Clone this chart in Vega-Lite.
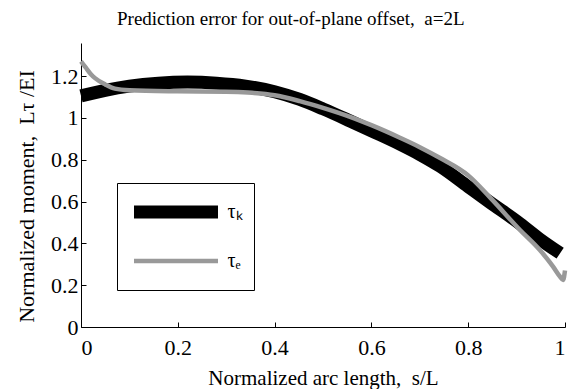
{
  "$schema": "https://vega.github.io/schema/vega-lite/v6.json",
  "width": 484,
  "height": 284,
  "autosize": "none",
  "padding": {"left": 81, "top": 43, "right": 9, "bottom": 62},
  "background": "white",
  "title": {
    "text": "Prediction error for out-of-plane offset,\u00a0 a=2L",
    "anchor": "start",
    "frame": "group",
    "dx": 36,
    "offset": -1,
    "font": "Liberation Serif",
    "fontSize": 19,
    "fontWeight": "normal",
    "color": "black",
    "baseline": "alphabetic"
  },
  "config": {
    "view": {"stroke": null},
    "axis": {
      "domainColor": "black",
      "domainWidth": 1,
      "tickColor": "black",
      "tickSize": -5,
      "tickWidth": 1,
      "grid": false,
      "labelFont": "Liberation Serif",
      "labelFontSize": 22,
      "labelColor": "black",
      "titleFont": "Liberation Serif",
      "titleFontSize": 21,
      "titleFontWeight": "normal",
      "titleColor": "black"
    }
  },
  "data": {
    "values": [
      {"s": 0, "m": 1.105, "series": "τₖ"},
      {"s": 0.05, "m": 1.132, "series": "τₖ"},
      {"s": 0.1, "m": 1.152, "series": "τₖ"},
      {"s": 0.16, "m": 1.166, "series": "τₖ"},
      {"s": 0.22, "m": 1.171, "series": "τₖ"},
      {"s": 0.28, "m": 1.166, "series": "τₖ"},
      {"s": 0.34, "m": 1.152, "series": "τₖ"},
      {"s": 0.4, "m": 1.125, "series": "τₖ"},
      {"s": 0.452, "m": 1.088, "series": "τₖ"},
      {"s": 0.5, "m": 1.043, "series": "τₖ"},
      {"s": 0.556, "m": 0.985, "series": "τₖ"},
      {"s": 0.6, "m": 0.938, "series": "τₖ"},
      {"s": 0.659, "m": 0.874, "series": "τₖ"},
      {"s": 0.7, "m": 0.825, "series": "τₖ"},
      {"s": 0.742, "m": 0.768, "series": "τₖ"},
      {"s": 0.8, "m": 0.671, "series": "τₖ"},
      {"s": 0.845, "m": 0.596, "series": "τₖ"},
      {"s": 0.907, "m": 0.494, "series": "τₖ"},
      {"s": 0.948, "m": 0.42, "series": "τₖ"},
      {"s": 0.99, "m": 0.353, "series": "τₖ"},
      {"s": 0, "m": 1.27, "series": "τₑ"},
      {"s": 0.01, "m": 1.24, "series": "τₑ"},
      {"s": 0.02, "m": 1.21, "series": "τₑ"},
      {"s": 0.029, "m": 1.19, "series": "τₑ"},
      {"s": 0.05, "m": 1.16, "series": "τₑ"},
      {"s": 0.07, "m": 1.14, "series": "τₑ"},
      {"s": 0.1, "m": 1.132, "series": "τₑ"},
      {"s": 0.2, "m": 1.127, "series": "τₑ"},
      {"s": 0.3, "m": 1.125, "series": "τₑ"},
      {"s": 0.345, "m": 1.121, "series": "τₑ"},
      {"s": 0.4, "m": 1.108, "series": "τₑ"},
      {"s": 0.452, "m": 1.08, "series": "τₑ"},
      {"s": 0.5, "m": 1.048, "series": "τₑ"},
      {"s": 0.556, "m": 1.005, "series": "τₑ"},
      {"s": 0.6, "m": 0.965, "series": "τₑ"},
      {"s": 0.659, "m": 0.905, "series": "τₑ"},
      {"s": 0.7, "m": 0.86, "series": "τₑ"},
      {"s": 0.742, "m": 0.808, "series": "τₑ"},
      {"s": 0.8, "m": 0.725, "series": "τₑ"},
      {"s": 0.845, "m": 0.62, "series": "τₑ"},
      {"s": 0.907, "m": 0.464, "series": "τₑ"},
      {"s": 0.948, "m": 0.368, "series": "τₑ"},
      {"s": 0.975, "m": 0.29, "series": "τₑ"},
      {"s": 0.99, "m": 0.24, "series": "τₑ"},
      {"s": 0.996, "m": 0.225, "series": "τₑ"},
      {"s": 1.0, "m": 0.27, "series": "τₑ"}
    ]
  },
  "mark": {"type": "line", "interpolate": "monotone", "strokeCap": "butt", "clip": false},
  "encoding": {
    "x": {
      "field": "s",
      "type": "quantitative",
      "scale": {"domain": [0, 1], "nice": false, "zero": false},
      "axis": {
        "title": "Normalized arc length,\u00a0 s/L",
        "values": [0, 0.2, 0.4, 0.6, 0.8, 1],
        "labelExpr": "'' + datum.value",
        "labelPadding": 15,
        "titlePadding": 9
      }
    },
    "y": {
      "field": "m",
      "type": "quantitative",
      "scale": {"domain": [0, 1.358], "nice": false},
      "axis": {
        "title": "Normalized moment,\u00a0 Lτ /EI",
        "values": [0, 0.2, 0.4, 0.6, 0.8, 1, 1.2],
        "labelExpr": "'' + datum.value",
        "labelPadding": 8,
        "titlePadding": 12,
        "titleFontSize": 22,
        "titleY": 153
      }
    },
    "color": {
      "field": "series",
      "type": "nominal",
      "scale": {"domain": ["τₖ", "τₑ"], "range": ["#000000", "#999999"]},
      "legend": {
        "title": null,
        "orient": "none",
        "legendX": 36,
        "legendY": 140,
        "strokeColor": "black",
        "fillColor": "white",
        "padding": 10.5,
        "symbolType": "stroke",
        "symbolSize": 7056,
        "labelFont": "Liberation Serif",
        "labelFontSize": 20,
        "labelColor": "black",
        "labelOffset": 3,
        "clipHeight": 37,
        "rowPadding": 12
      }
    },
    "strokeWidth": {
      "field": "series",
      "type": "nominal",
      "scale": {"domain": ["τₖ", "τₑ"], "range": [13, 4.5]}
    }
  }
}
